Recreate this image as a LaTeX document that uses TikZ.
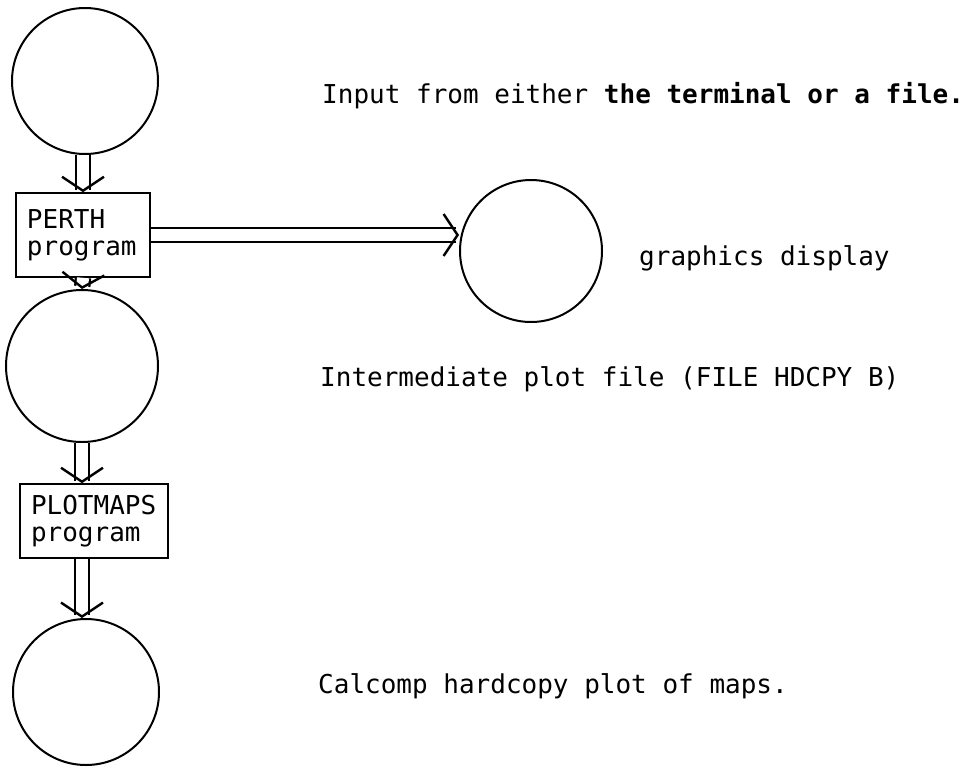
\documentclass[tikz,border=0pt]{standalone}
\usepackage{fontspec}
\setmonofont{DejaVu Sans Mono}
\usetikzlibrary{arrows.meta}

\tikzset{
  stage/.style={circle, draw, line width=2pt, inner sep=0pt},
  prog/.style={rectangle, draw, line width=1.6pt, align=left, inner xsep=11pt,
    font=\ttfamily\fontsize{26}{27}\selectfont},
  note/.style={anchor=base west, inner sep=0pt, font=\ttfamily\fontsize{26}{26}\selectfont},
  flow/.style={double, double distance=12pt, line width=2.2pt,
    -{Straight Barb[length=14pt, width=42pt, line width=2.4pt]}}
}

\begin{document}
\begin{tikzpicture}[x=1pt, y=-1pt]
  \useasboundingbox (0,0) rectangle (980,766);

  % Circles (data stages)
  \node[stage, minimum size=146pt] (c1) at (85,81) {};
  \node[stage, minimum size=142pt] (c2) at (531,251) {};
  \node[stage, minimum size=152pt] (c3) at (82,366) {};
  \node[stage, minimum size=146pt] (c4) at (86,692) {};

  % Programs
  \node[prog, text width=112pt, minimum height=84pt] (p1) at (83,235) {PERTH\\program};
  \node[prog, text width=126pt, minimum height=74pt] (p2) at (94,521) {PLOTMAPS\\program};

  % Flow arrows
  \draw[flow] (p1.north |- c1.south) -- (p1.north);
  \draw[flow] (p1.east) -- (p1.east -| c2.west);
  \draw[flow] (p1.south) -- (c3.north);
  \draw[flow] (c3.south) -- (c3.south |- p2.north);
  \draw[flow] (c3.south |- p2.south) -- (c3.south |- c4.north);

  % Descriptions
  \node[note] (t1) at (322,103) {Input from either \textbf{the terminal or a file.}};
  \node[note] (t2) at (639,265) {graphics display};
  \node[note] (t3) at (320,386) {Intermediate plot file (FILE HDCPY B)};
  \node[note] (t4) at (318,693) {Calcomp hardcopy plot of maps.};
\end{tikzpicture}
\end{document}
